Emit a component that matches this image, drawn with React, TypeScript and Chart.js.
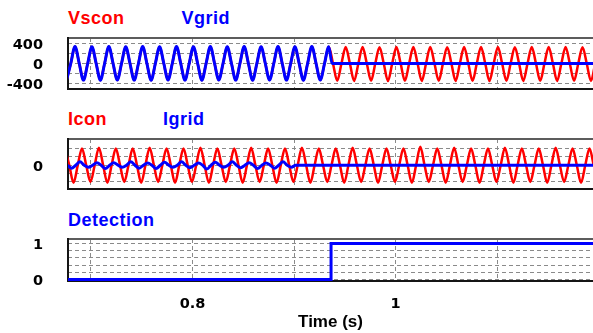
import React, { useEffect, useRef } from "react";
import { Chart, registerables } from "chart.js";

Chart.register(...registerables);

// ---------------- data ----------------
const PERIOD = 1 / 60; // 60 Hz waveforms
const timeRange = [0.67734, 1.19458];
const timeGridTicks = [0.7, 0.8, 0.9, 1.0, 1.1];
const timeTickLabels = [0.8, 1];
const voltGridTicks = [-400, -200, 0, 200, 400];
const voltTickLabels = [-400, 0, 400];
const currGridTicks = [-20, -10, 0, 10, 20];
const currTickLabels = [0];
const detectGridTicks = [0, 0.2, 0.4, 0.6, 0.8, 1];
const detectTickLabels = [0, 1];

// voltage panel: successive extremes (half-cycle peaks), first one is a trough
const voltStart = 0.67591;
const vgridExtremes = [
  -330, 338, -332, 336, -334, 338, -330, 336,
  -332, 338, -334, 336, -330, 338, -332, 336,
  -334, 338, -330, 336, -332, 338, -334, 336,
  -330, 338, -332, 336, -334, 338, -330, 336,
];
const vgridOffTime = 0.9375;
const vsconExtremes = [
  -330, 338, -332, 336, -334, 338, -330, 336,
  -332, 338, -334, 336, -330, 338, -332, 336,
  -334, 338, -330, 336, -332, 338, -334, 336,
  -330, 338, -332, 336, -334, 338, -330, 336,
  -345, 328, -348, 330, -345, 326, -350, 330,
  -346, 328, -348, 330, -345, 326, -348, 330,
  -346, 328, -350, 330, -345, 326, -348, 330,
  -346, 328, -348, 330, -345, 326, -348, 330,
];

// current panel: successive extremes, first one is a peak
const iconStart = 0.67446;
const iconExtremes = [
  20, -21, 20, -20, 21, -21, 20, -20, 20, -21, 21, -20, 20, -21, 20, -20,
  21, -21, 20, -20, 20, -21, 21, -20, 20, -21, 20, -20, 21, -21, 20, -20,
  20, -21, 21, -20, 20, -21, 20, -20, 20, -21, 22, -20, 20, -21, 21, -20,
  20, -21, 20, -20, 21, -21, 20, -20, 20, -21, 21, -20, 20, -21, 20, -20,
];
const igridStart = 0.6725;
const igridExtremes = [
  3, -3.5, 4, -2.5, 3, -4, 3, -2.5, 4, -3.5, 2.5, -4, 3.5, -2.5,
  4, -3, 2.5, -4.5, 3.5, -2.5, 4, -3, 3, -4, 2.5, -3.5, 4, -2.5,
];

// detection signal
const detectTimes = [0.66, 0.9365, 0.9365, 1.21];
const detectValues = [0, 0, 1, 1];

const END_TIME = 1.21;

// ---------------- helpers ----------------
type Pt = { x: number; y: number };

function wave(start: number, ext: number[], trailingZero: boolean): Pt[] {
  const half = PERIOD / 2;
  const pts: Pt[] = [];
  ext.forEach((v, j) => {
    const t = start + j * half;
    pts.push({ x: t, y: v });
    if (j < ext.length - 1 || trailingZero) pts.push({ x: t + half / 2, y: 0 });
  });
  return pts;
}

const RED = "#ff0000";
const BLUE = "#0000ff";
const GRID = "#8a8a8a";
const TICK_FONT = { family: "'DejaVu Sans', sans-serif", weight: "bold" as const, size: 14.5 };

const framePlugin = {
  id: "frame",
  beforeDatasetsDraw(chart: any) {
    const { ctx, chartArea: a } = chart;
    ctx.save();
    ctx.lineWidth = 2;
    ctx.strokeStyle = "#5c5c5c";
    ctx.beginPath();
    ctx.moveTo(a.left, a.top);
    ctx.lineTo(a.right, a.top);
    ctx.stroke();
    ctx.strokeStyle = "#151515";
    ctx.beginPath();
    ctx.moveTo(a.left, a.top - 1);
    ctx.lineTo(a.left, a.bottom);
    ctx.lineTo(a.right, a.bottom);
    ctx.stroke();
    ctx.restore();
  },
};

type PanelCfg = {
  padTop: number;
  xHeight: number;
  yMin: number;
  yMax: number;
  yGrid: number[];
  yLabels: number[];
  showX: boolean;
  datasets: any[];
};

function hasLabel(list: number[], v: number) {
  return list.some((l) => Math.abs(l - v) < 1e-9);
}

function makeChart(canvas: HTMLCanvasElement, cfg: PanelCfg) {
  return new Chart(canvas, {
    type: "line",
    data: { datasets: cfg.datasets },
    plugins: [framePlugin],
    options: {
      animation: false,
      responsive: false,
      devicePixelRatio: 1,
      layout: { padding: { top: cfg.padTop, left: 0, right: 0, bottom: 0 } },
      plugins: { legend: { display: false }, tooltip: { enabled: false } },
      elements: { point: { radius: 0 } },
      scales: {
        x: {
          type: "linear",
          min: timeRange[0],
          max: timeRange[1],
          afterBuildTicks: (s: any) => {
            s.ticks = timeGridTicks.map((v) => ({ value: v }));
          },
          afterFit: (s: any) => {
            s.height = cfg.xHeight;
          },
          border: { display: false, dash: [4, 3] },
          grid: { color: GRID, lineWidth: 1, drawTicks: false },
          ticks: {
            display: cfg.showX,
            autoSkip: false,
            maxRotation: 0,
            padding: 15,
            color: "#000",
            font: TICK_FONT,
            callback: (v: any) => (hasLabel(timeTickLabels, Number(v)) ? String(Number(v)) : ""),
          },
          title: {
            display: cfg.showX,
            text: "Time (s)",
            color: "#000",
            font: { family: "'Liberation Sans', Arial, sans-serif", weight: "bold", size: 17 },
            padding: { top: 0, bottom: 0 },
          },
        },
        y: {
          type: "linear",
          min: cfg.yMin,
          max: cfg.yMax,
          afterBuildTicks: (s: any) => {
            s.ticks = cfg.yGrid.map((v) => ({ value: v }));
          },
          afterFit: (s: any) => {
            s.width = 68;
          },
          border: { display: false, dash: [4, 3] },
          grid: {
            drawTicks: true,
            tickLength: 25,
            tickColor: "rgba(0,0,0,0)",
            lineWidth: 1,
            color: GRID,
          },
          ticks: {
            autoSkip: false,
            padding: 0,
            labelOffset: 2,
            color: "#000",
            font: TICK_FONT,
            callback: (v: any) => (hasLabel(cfg.yLabels, Number(v)) ? String(Number(v)) : ""),
          },
        },
      },
    } as any,
  });
}

const lineStyle = (color: string, width: number, order: number) => ({
  borderColor: color,
  backgroundColor: color,
  borderWidth: width,
  cubicInterpolationMode: "monotone",
  pointRadius: 0,
  fill: false,
  order,
});

const titleStyle = (left: number, top: number, color: string): React.CSSProperties => ({
  position: "absolute",
  left,
  top,
  color,
  fontFamily: "'Liberation Sans', Arial, sans-serif",
  fontWeight: "bold",
  fontSize: 18,
  lineHeight: "18px",
  letterSpacing: 0.5,
  whiteSpace: "nowrap",
});

export default function App() {
  const r1 = useRef<HTMLCanvasElement>(null);
  const r2 = useRef<HTMLCanvasElement>(null);
  const r3 = useRef<HTMLCanvasElement>(null);

  useEffect(() => {
    const vgrid = [...wave(voltStart, vgridExtremes, false), { x: vgridOffTime, y: 0 }, { x: END_TIME, y: 0 }];
    const vscon = wave(voltStart, vsconExtremes, false);
    const icon = wave(iconStart, iconExtremes, false);
    const igrid = [...wave(igridStart, igridExtremes, true), { x: END_TIME, y: 0 }];
    const detect = detectTimes.map((t, i) => ({ x: t, y: detectValues[i] }));

    const c1 = makeChart(r1.current!, {
      padTop: 10,
      xHeight: 11,
      yMin: -510,
      yMax: 510,
      yGrid: voltGridTicks,
      yLabels: voltTickLabels,
      showX: false,
      datasets: [
        { label: "Vscon", data: vscon, ...lineStyle(RED, 2.5, 1) },
        { label: "Vgrid", data: vgrid, ...lineStyle(BLUE, 3, 0) },
      ],
    });
    const c2 = makeChart(r2.current!, {
      padTop: 11,
      xHeight: 11,
      yMin: -28.5,
      yMax: 31.4,
      yGrid: currGridTicks,
      yLabels: currTickLabels,
      showX: false,
      datasets: [
        { label: "Icon", data: icon, ...lineStyle(RED, 2.5, 1) },
        { label: "Igrid", data: igrid, ...lineStyle(BLUE, 3, 0) },
      ],
    });
    const c3 = makeChart(r3.current!, {
      padTop: 11,
      xHeight: 52,
      yMin: -0.042,
      yMax: 1.125,
      yGrid: detectGridTicks,
      yLabels: detectTickLabels,
      showX: true,
      datasets: [{ label: "Detection", data: detect, ...lineStyle(BLUE, 3, 0), cubicInterpolationMode: "default", tension: 0 }],
    });
    return () => {
      c1.destroy();
      c2.destroy();
      c3.destroy();
    };
  }, []);

  return (
    <div
      style={{
        position: "fixed",
        left: 0,
        top: 0,
        width: 593,
        height: 333,
        background: "#fff",
        overflow: "hidden",
      }}
    >
      <div style={titleStyle(68, 9, RED)}>Vscon</div>
      <div style={titleStyle(181.5, 9, BLUE)}>Vgrid</div>
      <div style={titleStyle(68, 110, RED)}>Icon</div>
      <div style={titleStyle(163, 110, BLUE)}>Igrid</div>
      <div style={titleStyle(68, 211, BLUE)}>Detection</div>
      <canvas ref={r1} width={593} height={72} style={{ position: "absolute", left: 0, top: 28 }} />
      <canvas ref={r2} width={593} height={72} style={{ position: "absolute", left: 0, top: 128 }} />
      <canvas ref={r3} width={593} height={105} style={{ position: "absolute", left: 0, top: 228 }} />
    </div>
  );
}
